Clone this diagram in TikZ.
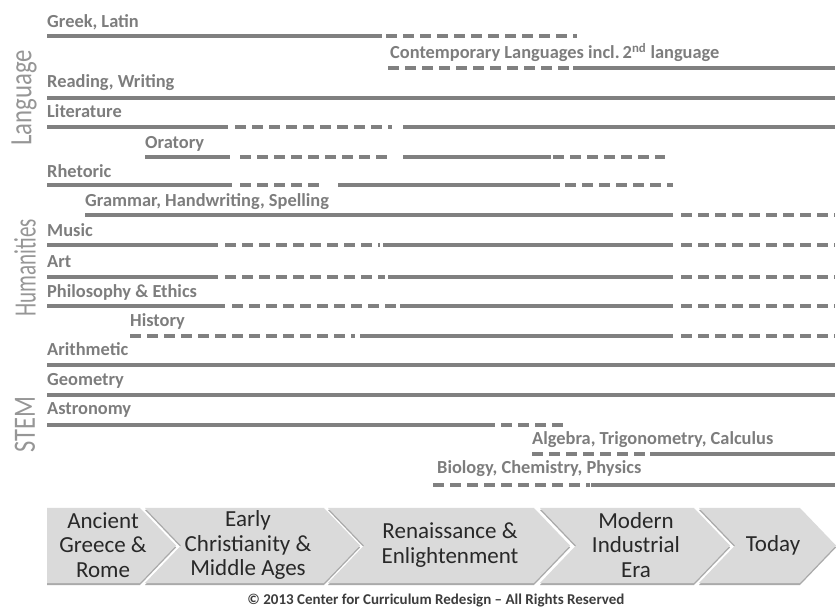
\documentclass[tikz,border=0pt]{standalone}
\usepackage{fontspec}
\usepackage{graphicx}
\setmainfont{Carlito}
\definecolor{labgray}{RGB}{125,125,125}
\definecolor{catgray}{RGB}{150,150,150}
\definecolor{linegray}{RGB}{128,128,128}
\definecolor{chevfill}{RGB}{218,218,218}
\definecolor{chevshadow}{RGB}{170,170,170}
\definecolor{chevtext}{RGB}{40,40,40}
\definecolor{copytext}{RGB}{60,60,60}
\begin{document}
\begin{tikzpicture}[x=1pt,y=-1pt,
  lab/.style={anchor=base west, font=\bfseries\fontsize{18.4}{20}\selectfont, text=labgray, inner sep=0pt},
  sol/.style={draw=linegray, line width=3.3pt},
  dsh/.style={draw=linegray, line width=3.3pt, dash pattern=on 10.5pt off 6.5pt},
  cat/.style={rotate=90, font=\fontsize{31}{34}\selectfont, text=catgray, inner sep=0pt},
  chev/.style={fill=chevfill, draw=none, preaction={fill=chevshadow, transform canvas={yshift=-2pt}}},
  chevlab/.style={align=center, font=\fontsize{23}{24.5}\selectfont, text=chevtext, inner sep=0pt}]
\useasboundingbox (0,0) rectangle (836,609);

% category labels
\node[cat] (catlang) at (24,98) {\scalebox{0.8}[1]{Language}};
\node[cat] (cathum) at (25,268) {\scalebox{0.68}[1]{Humanities}};
\node[cat] (catstem) at (25,425) {\scalebox{0.79}[1]{STEM}};

% row labels
\node[lab] (greek) at (47,28) {Greek, Latin};
\node[lab] (contemp) at (390,59) {Contemporary Languages incl.\,2\textsuperscript{nd} language};
\node[lab] (reading) at (47,88) {Reading, Writing};
\node[lab] (lit) at (47,118) {Literature};
\node[lab] (oratory) at (145,149) {Oratory};
\node[lab] (rhet) at (47,178) {Rhetoric};
\node[lab] (gram) at (85,207) {Grammar, Handwriting, Spelling};
\node[lab] (music) at (47,237) {Music};
\node[lab] (art) at (47,268) {Art};
\node[lab] (phil) at (47,298) {Philosophy \& Ethics};
\node[lab] (hist) at (130,327) {History};
\node[lab] (arith) at (47,356) {Arithmetic};
\node[lab] (geom) at (47,386) {Geometry};
\node[lab] (astro) at (47,415) {Astronomy};
\node[lab] (alg) at (532,445) {Algebra, Trigonometry, Calculus};
\node[lab] (bio) at (437,474) {Biology, Chemistry, Physics};

% timeline bars
\draw[sol] (47,36) -- (382,36);  \draw[dsh] (386,36) -- (577,36);
\draw[dsh] (388,68) -- (571,68); \draw[sol] (573,68) -- (835,68);
\draw[sol] (47,98) -- (835,98);
\draw[sol] (47,127) -- (228,127); \draw[dsh] (235,127) -- (392,127); \draw[sol] (403,127) -- (835,127);
\draw[sol] (145,157) -- (230,157); \draw[dsh] (240,157) -- (392,157); \draw[sol] (403,157) -- (551,157); \draw[dsh] (553,157) -- (665,157);
\draw[sol] (47,185) -- (232,185); \draw[dsh] (240,185) -- (322,185); \draw[sol] (338,185) -- (560,185); \draw[dsh] (565,185) -- (673,185);
\draw[sol] (85,215) -- (673,215); \draw[dsh] (681,215) -- (835,215);
\draw[sol] (47,245) -- (218,245); \draw[dsh] (225,245) -- (380,245); \draw[sol] (383,245) -- (673,245); \draw[dsh] (681,245) -- (835,245);
\draw[sol] (47,277) -- (218,277); \draw[dsh] (225,277) -- (385,277); \draw[sol] (388,277) -- (673,277); \draw[dsh] (681,277) -- (835,277);
\draw[sol] (47,306) -- (225,306); \draw[dsh] (232,306) -- (398,306); \draw[sol] (400,306) -- (673,306); \draw[dsh] (681,306) -- (835,306);
\draw[dsh] (130,336) -- (355,336); \draw[sol] (360,336) -- (673,336); \draw[dsh] (681,336) -- (835,336);
\draw[sol] (47,365) -- (835,365);
\draw[sol] (47,395) -- (835,395);
\draw[sol] (47,425) -- (495,425); \draw[dsh] (501,425) -- (567,425);
\draw[dsh] (532,454) -- (648,454); \draw[sol] (650,454) -- (835,454);
\draw[dsh] (433,485) -- (590,485); \draw[sol] (591,485) -- (835,485);

% era chevrons
\path[chev] (47,508) -- (140,508) -- (176,545.5) -- (140,583) -- (47,583) -- cycle;
\path[chev] (145,508) -- (324,508) -- (360,545.5) -- (324,583) -- (145,583) -- (181,545.5) -- cycle;
\path[chev] (328,508) -- (534,508) -- (570,545.5) -- (534,583) -- (328,583) -- (364,545.5) -- cycle;
\path[chev] (540,508) -- (694,508) -- (730,545.5) -- (694,583) -- (540,583) -- (576,545.5) -- cycle;
\path[chev] (699,508) -- (800,508) -- (836,545.5) -- (800,583) -- (699,583) -- (735,545.5) -- cycle;

\node[chevlab] (era1) at (103,545) {Ancient\\Greece \&\\Rome};
\node[chevlab] (era2) at (248,545) {Early\\Christianity \&\\Middle Ages};
\node[chevlab] (era3) at (450,545) {Renaissance \&\\Enlightenment};
\node[chevlab] (era4) at (636,545) {Modern\\Industrial\\Era};
\node[chevlab] (era5) at (773,545) {Today};

\node[font=\bfseries\fontsize{15}{16}\selectfont, text=copytext, inner sep=0pt] (copy) at (436,601) {\textcopyright\ 2013 Center for Curriculum Redesign -- All Rights Reserved};
\end{tikzpicture}
\end{document}
